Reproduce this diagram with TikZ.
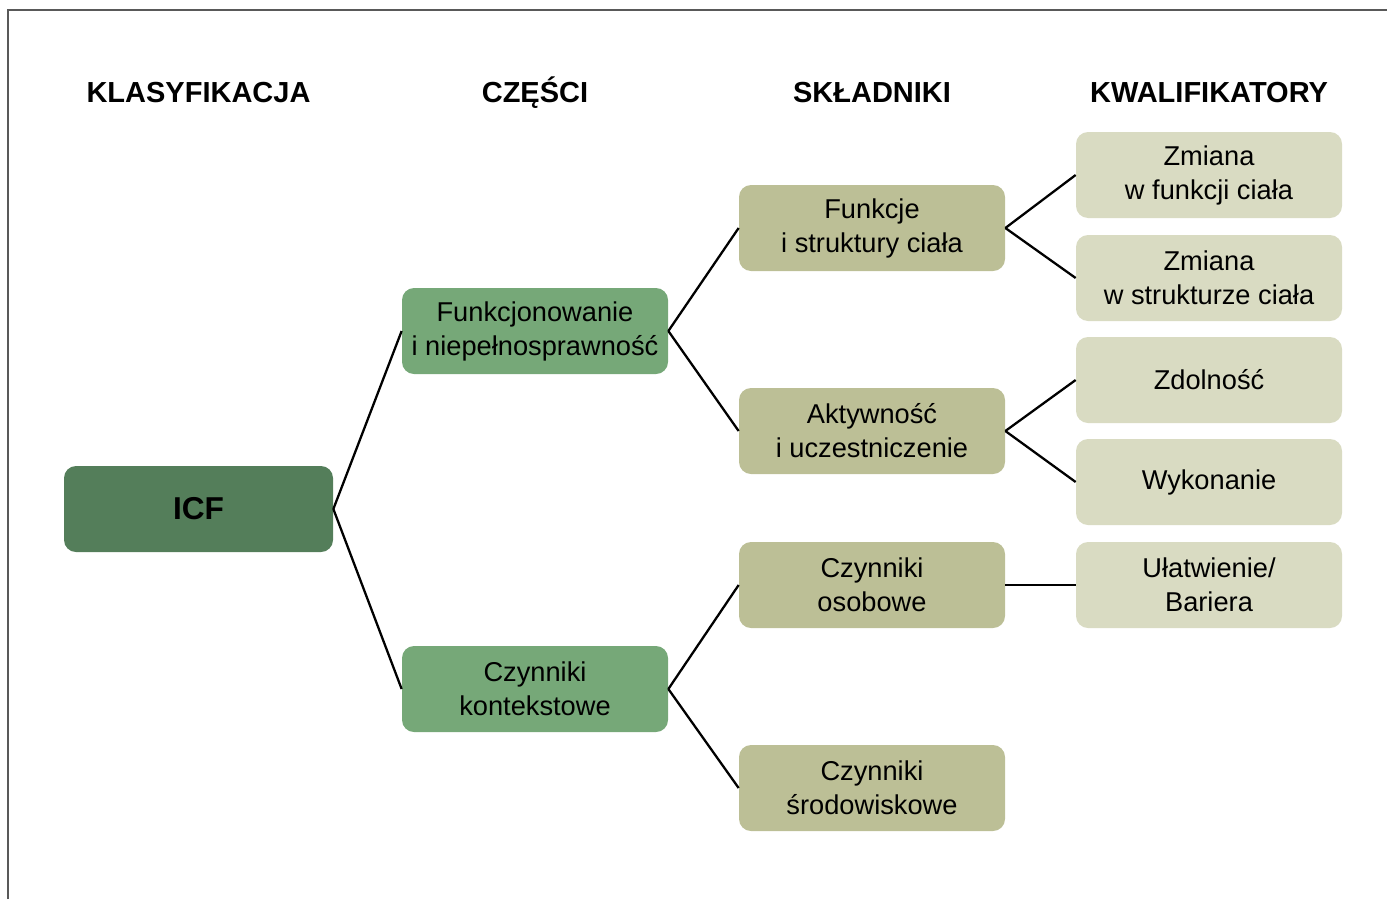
\documentclass[tikz,border=0pt]{standalone}
\usepackage{fontspec}
\setmainfont{Liberation Sans}
\usepackage{tikz}
\usetikzlibrary{shapes.geometric, arrows.meta, positioning}
\definecolor{zielonyC}{HTML}{547E5A}
\definecolor{zielonyS}{HTML}{76A878}
\definecolor{oliwka}{HTML}{BCBF96}
\definecolor{jasny}{HTML}{D9DBC2}
\tikzstyle{blok} = [rectangle, text centered, align=center, minimum width=5.32cm, minimum height=1.72cm, rounded corners=0.24cm, inner sep=2pt, font=\fontsize{15.5}{19.3}\selectfont]
\tikzstyle{naglowek} = [font=\fontsize{16.5}{19}\selectfont\bfseries]
\tikzstyle{linia} = [draw, line width=1.3pt]

\begin{document}
\begin{tikzpicture}
  \useasboundingbox (0,0) rectangle (27.74,-17.98);
  \draw [line width=0.8pt, black!65] (0.16,-17.98) -- (0.16,-0.2) -- (27.74,-0.2);

  % Naglowki kolumn
  \node (hklas) [naglowek] at (3.97,-1.86) {KLASYFIKACJA};
  \node (hczesci) [naglowek] at (10.70,-1.86) {CZĘŚCI};
  \node (hskl) [naglowek] at (17.44,-1.86) {SKŁADNIKI};
  \node (hkwal) [naglowek] at (24.18,-1.86) {KWALIFIKATORY};

  % Klasyfikacja
  \node (icf) [blok, fill=zielonyC, minimum width=5.38cm, font=\fontsize{18}{20}\selectfont\bfseries] at (3.97,-10.18) {ICF};

  % Czesci
  \node (funkcjonowanie) [blok, fill=zielonyS] at (10.70,-6.62) {Funkcjonowanie\\i niepełnosprawność};
  \node (kontekstowe) [blok, fill=zielonyS] at (10.70,-13.78) {Czynniki\\kontekstowe};

  % Skladniki
  \node (funkcje) [blok, fill=oliwka] at (17.44,-4.56) {Funkcje\\i struktury ciała};
  \node (aktywnosc) [blok, fill=oliwka] at (17.44,-8.62) {Aktywność\\i uczestniczenie};
  \node (osobowe) [blok, fill=oliwka] at (17.44,-11.70) {Czynniki\\osobowe};
  \node (srodowiskowe) [blok, fill=oliwka] at (17.44,-15.76) {Czynniki\\środowiskowe};

  % Kwalifikatory
  \node (zmfunkcji) [blok, fill=jasny] at (24.18,-3.50) {Zmiana\\w funkcji ciała};
  \node (zmstruktury) [blok, fill=jasny] at (24.18,-5.56) {Zmiana\\w strukturze ciała};
  \node (zdolnosc) [blok, fill=jasny] at (24.18,-7.60) {Zdolność};
  \node (wykonanie) [blok, fill=jasny] at (24.18,-9.64) {Wykonanie};
  \node (ulatwienie) [blok, fill=jasny] at (24.18,-11.70) {Ułatwienie/\\Bariera};

  % Polaczenia
  \draw [linia] (icf.east) -- (funkcjonowanie.west);
  \draw [linia] (icf.east) -- (kontekstowe.west);
  \draw [linia] (funkcjonowanie.east) -- (funkcje.west);
  \draw [linia] (funkcjonowanie.east) -- (aktywnosc.west);
  \draw [linia] (kontekstowe.east) -- (osobowe.west);
  \draw [linia] (kontekstowe.east) -- (srodowiskowe.west);
  \draw [linia] (funkcje.east) -- (zmfunkcji.west);
  \draw [linia] (funkcje.east) -- (zmstruktury.west);
  \draw [linia] (aktywnosc.east) -- (zdolnosc.west);
  \draw [linia] (aktywnosc.east) -- (wykonanie.west);
  \draw [linia] (osobowe.east) -- (ulatwienie.west);

\end{tikzpicture}
\end{document}
